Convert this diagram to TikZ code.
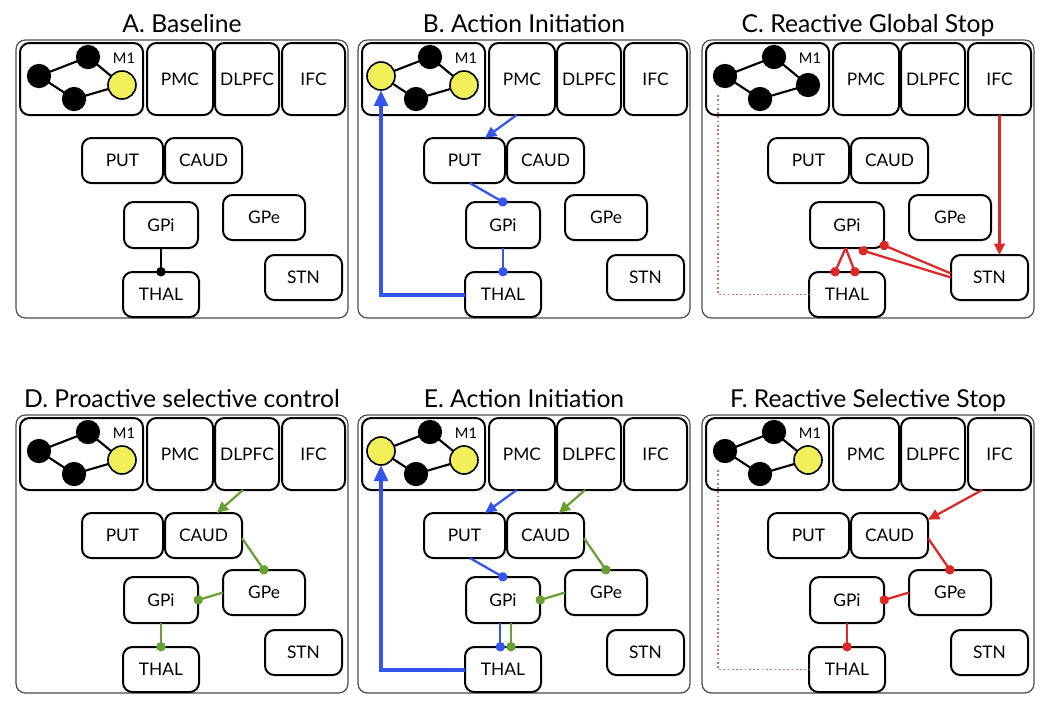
\documentclass[tikz,border=0pt]{standalone}
\usepackage{fontspec}
\setmainfont{Lato}
\usetikzlibrary{arrows.meta,calc}
\definecolor{cblue}{RGB}{52,84,240}
\definecolor{cgreen}{RGB}{104,160,52}
\definecolor{cred}{RGB}{222,40,40}
\definecolor{cyel}{RGB}{242,240,90}
\definecolor{cpink}{RGB}{215,105,105}
\tikzset{
 panelbox/.style={draw=black!70, line width=0.9pt, rounded corners=7pt, inner sep=0pt, outer sep=0pt},
 box/.style={draw=black, line width=1.5pt, rounded corners=7pt, inner sep=0pt, outer sep=0pt, font=\fontsize{13}{15}\selectfont},
 paneltitle/.style={font=\fontsize{18.5}{20}\selectfont, anchor=base, inner sep=0pt},
 netnode/.style={circle, draw=black, line width=1.2pt, inner sep=0pt, outer sep=0pt},
 blk/.style={netnode, fill=black, minimum size=17pt},
 yel/.style={netnode, fill=cyel, minimum size=21pt},
 netedge/.style={line width=1.6pt},
 exc/.style={line width=1.7pt, -{Triangle[length=8.5pt,width=8pt]}},
 inh/.style={line width=1.7pt, -{Circle[length=7pt]}, shorten >=-3.3pt},
 bigexc/.style={line width=3pt, -{Triangle[length=12pt,width=10pt]}},
 dotline/.style={cpink, line width=1.3pt, dash pattern=on 1.3pt off 1.9pt},
}
\newcommand{\bx}[7]{\node[#7, minimum width={(#4-#2)*0.75pt}, minimum height={(#5-#3)*0.75pt}] (#1) at ({(#2+#4)/2},{(#3+#5)/2}) {#6};}
\newcommand{\brainpanel}[8]{%
\begin{scope}[shift={(#2,#3)}]
 \bx{#1frame}{16}{40}{348}{318}{}{panelbox}
 \node[paneltitle] (#1title) at (182,32) {#4};
 \bx{#1M1}{20}{43}{143}{115}{}{box}
 \bx{#1PMC}{147}{43}{213}{115}{PMC}{box}
 \bx{#1DLPFC}{215}{43}{279}{115}{DLPFC}{box}
 \bx{#1IFC}{282}{43}{345}{115}{IFC}{box}
 \bx{#1PUT}{82}{138}{163}{183}{PUT}{box}
 \bx{#1CAUD}{165}{138}{242}{183}{CAUD}{box}
 \bx{#1GPi}{124}{202}{198}{248}{GPi}{box}
 \bx{#1GPe}{223}{195}{305}{240}{GPe}{box}
 \bx{#1STN}{265}{255}{342}{300}{STN}{box}
 \bx{#1THAL}{123}{272}{199}{317}{THAL}{box}
 \node[font=\fontsize{11}{12}\selectfont] (#1m1lab) at (124,58) {M1};
 \node[#5] (#1n1) at (39,76) {};
 \node[#6] (#1n2) at (88,57) {};
 \node[#7] (#1n3) at (74,99) {};
 \node[#8] (#1n4) at (122,85) {};
 \draw[netedge] (#1n1) -- (#1n2);
 \draw[netedge] (#1n2) -- (#1n4);
 \draw[netedge] (#1n4) -- (#1n3);
 \draw[netedge] (#1n3) -- (#1n1);
\end{scope}}
\begin{document}
\begin{tikzpicture}[x=0.75pt,y=-0.75pt]
\useasboundingbox (0,0) rectangle (1050,708);
\brainpanel{A}{0}{0}{A. Baseline}{blk}{blk}{blk}{yel}
\brainpanel{B}{342}{0}{B. Action Initiation}{yel}{blk}{blk}{yel}
\brainpanel{C}{686}{0}{C. Reactive Global Stop}{blk}{blk}{blk}{blk}
\brainpanel{D}{0}{375}{D. Proactive selective control}{blk}{blk}{blk}{yel}
\brainpanel{E}{342}{375}{E. Action Initiation}{yel}{blk}{blk}{yel}
\brainpanel{F}{686}{375}{F. Reactive Selective Stop}{blk}{blk}{blk}{yel}
% A
\draw[inh, black] (AGPi.south) -- (ATHAL.north);
% B
\draw[exc, cblue] ([xshift=-4pt]BPMC.south) -- ([xshift=-15pt]BPUT.north east);
\draw[inh, cblue] ([xshift=4pt]BPUT.south) -- (BGPi.north);
\draw[inh, cblue] (BGPi.south) -- (BTHAL.north);
\draw[bigexc, cblue] (BTHAL.west) -| (Bn1.south);
% C
\draw[exc, cred] (CIFC.south) -- (CIFC.south |- CSTN.north);
\draw[inh, cred] ([yshift=3pt]CSTN.west) -- ([yshift=2pt]CGPi.south east);
\draw[inh, cred] (CSTN.west) -- ([xshift=12pt,yshift=-2pt]CGPi.south);
\draw[inh, cred] ([xshift=-1pt]CGPi.south) -- ([xshift=-9pt]CTHAL.north);
\draw[inh, cred] ([xshift=-1pt]CGPi.south) -- ([xshift=6pt]CTHAL.north);
\draw[dotline] ([xshift=9pt,yshift=15pt]CM1.south west) |- (CTHAL.west);
% D
\draw[exc, cgreen] ([xshift=-3pt]DDLPFC.south) -- ([xshift=10pt]DCAUD.north);
\draw[inh, cgreen] ([yshift=-2pt]DCAUD.east) -- (DGPe.north);
\draw[inh, cgreen] (DGPe.west) -- (DGPi.east);
\draw[inh, cgreen] (DGPi.south) -- (DTHAL.north);
% E
\draw[exc, cblue] ([xshift=-4pt]EPMC.south) -- ([xshift=-15pt]EPUT.north east);
\draw[exc, cgreen] ([xshift=-3pt]EDLPFC.south) -- ([xshift=10pt]ECAUD.north);
\draw[inh, cblue] ([xshift=4pt]EPUT.south) -- (EGPi.north);
\draw[inh, cgreen] ([yshift=-2pt]ECAUD.east) -- (EGPe.north);
\draw[inh, cgreen] (EGPe.west) -- (EGPi.east);
\draw[inh, cblue] ([xshift=-2pt]EGPi.south) -- ([xshift=-2pt]ETHAL.north);
\draw[inh, cgreen] ([xshift=6pt]EGPi.south) -- ([xshift=6pt]ETHAL.north);
\draw[bigexc, cblue] (ETHAL.west) -| (En1.south);
% F
\draw[exc, cred] ([xshift=-13pt]FIFC.south) -- ([yshift=-5pt]FCAUD.north east);
\draw[inh, cred] ([yshift=-2pt]FCAUD.east) -- (FGPe.north);
\draw[inh, cred] (FGPe.west) -- (FGPi.east);
\draw[inh, cred] (FGPi.south) -- (FTHAL.north);
\draw[dotline] ([xshift=9pt,yshift=15pt]FM1.south west) |- (FTHAL.west);
\end{tikzpicture}
\end{document}
